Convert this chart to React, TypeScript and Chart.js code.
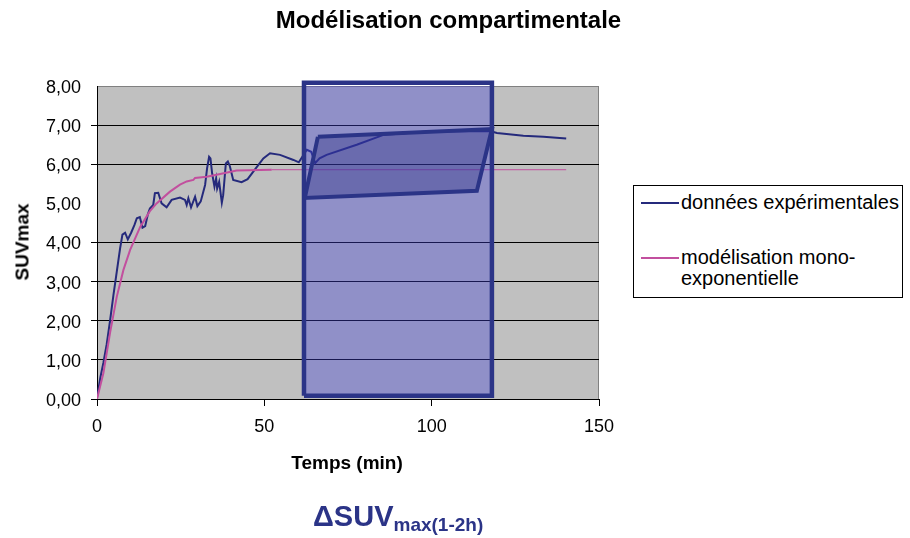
import React, { useEffect, useRef } from 'react';
import { Chart, registerables } from 'chart.js';

Chart.register(...registerables);

const FONT = "'Liberation Sans', Arial, Helvetica, sans-serif";

const titleText = 'Modélisation compartimentale';
const xAxisTitle = 'Temps (min)';
const yAxisTitle = 'SUVmax';
const bottomMain = 'ΔSUV';
const bottomSub = 'max(1-2h)';
const xTickLabels = ['0', '50', '100', '150'];
const yTickLabels = ['0,00', '1,00', '2,00', '3,00', '4,00', '5,00', '6,00', '7,00', '8,00'];
const seriesNames = ['données expérimentales', 'modélisation mono-exponentielle'];
const legendLines = [['données expérimentales'], ['modélisation mono-', 'exponentielle']];

const expTimes = [0, 1.0, 1.9, 2.9, 3.9, 4.9, 5.9, 6.9, 7.6, 8.4, 9.2, 10.2, 11.2, 11.9, 12.8, 13.6, 14.4, 15.2, 15.8, 16.8, 17.3, 18.3, 19.3, 20.8, 22.3, 24.8, 26.3, 26.8, 27.3, 28.1, 29.3, 30.0, 31.0, 32.3, 32.9, 33.5, 33.9, 34.4, 35.1, 35.6, 35.9, 36.5, 37.3, 37.7, 38.5, 39.1, 39.7, 40.7, 43.2, 45.0, 46.7, 49.7, 51.7, 54.7, 58.7, 60.3, 62.7, 64.0, 65.2, 66.5, 68.6, 77.6, 85.6, 97.5, 117.4, 119.5, 127.4, 133.4, 140.2];
const expValues = [0.03, 0.55, 0.92, 1.40, 2.00, 2.65, 3.25, 3.85, 4.20, 4.25, 4.08, 4.25, 4.45, 4.62, 4.65, 4.38, 4.42, 4.72, 4.87, 4.96, 5.26, 5.27, 5.00, 4.90, 5.09, 5.15, 5.09, 4.96, 5.13, 4.90, 5.17, 4.93, 5.05, 5.47, 5.90, 6.19, 6.15, 5.77, 5.43, 5.64, 5.38, 5.55, 5.02, 5.21, 6.02, 6.07, 5.95, 5.60, 5.54, 5.62, 5.81, 6.15, 6.28, 6.24, 6.11, 6.05, 6.37, 6.32, 6.03, 6.15, 6.24, 6.50, 6.75, 6.83, 6.85, 6.80, 6.73, 6.70, 6.66];

const modelTimes = [0, 1.9, 3.9, 5.9, 7.9, 9.9, 12.9, 15.8, 17.8, 21.8, 24.8, 26.8, 28.8, 29.3, 32.8, 36.8, 41.7, 52.2, 140.2];
const modelValues = [0, 0.66, 1.69, 2.61, 3.30, 3.81, 4.40, 4.80, 5.00, 5.30, 5.48, 5.56, 5.60, 5.65, 5.68, 5.75, 5.84, 5.86, 5.86];

// highlighted 1h-2h window (time bounds, SUV bounds)
const windowTimes = [61.85, 118.0];
const windowValues = [0.08, 8.08];
// ΔSUV parallelogram corners
const deltaTimes = [66.0, 118.0, 113.5, 62.1];
const deltaValues = [6.70, 6.90, 5.32, 5.14];

const EXP_COLOR = '#252a7c';
const MODEL_COLOR = '#c24f9e';
const BOX_BORDER = '#2b3487';

export default function App() {
  const ref = useRef<HTMLCanvasElement>(null);

  useEffect(() => {
    const canvas = ref.current;
    if (!canvas) return;

    const bgPlugin = {
      id: 'plotBg',
      beforeDraw(chart: any) {
        const { ctx, chartArea: a } = chart;
        ctx.save();
        ctx.fillStyle = '#ffffff';
        ctx.fillRect(0, 0, chart.width, chart.height);
        ctx.fillStyle = '#c0c0c0';
        ctx.fillRect(a.left, a.top, a.right - a.left, a.bottom - a.top);
        ctx.strokeStyle = '#808080';
        ctx.lineWidth = 1;
        ctx.beginPath();
        ctx.moveTo(a.right - 0.5, a.top);
        ctx.lineTo(a.right - 0.5, a.bottom);
        ctx.stroke();
        ctx.restore();
      },
    };

    const rect = [
      { x: windowTimes[0], y: windowValues[0] },
      { x: windowTimes[0], y: windowValues[1] },
      { x: windowTimes[1], y: windowValues[1] },
      { x: windowTimes[1], y: windowValues[0] },
      { x: windowTimes[0], y: windowValues[0] },
    ];
    const para = deltaTimes.map((t, i) => ({ x: t, y: deltaValues[i] }));
    para.push({ x: deltaTimes[0], y: deltaValues[0] });

    const chart = new Chart(canvas, {
      type: 'line',
      data: {
        datasets: [
          {
            label: seriesNames[0],
            data: expTimes.map((t, i) => ({ x: t, y: expValues[i] })),
            borderColor: EXP_COLOR,
            borderWidth: 2,
            pointRadius: 0,
            tension: 0,
            fill: false,
            order: 4,
          },
          {
            label: seriesNames[1],
            data: modelTimes.map((t, i) => ({ x: t, y: modelValues[i] })),
            borderColor: MODEL_COLOR,
            borderWidth: 2,
            pointRadius: 0,
            tension: 0,
            fill: false,
            order: 3,
            segment: {
              borderWidth: (c: any) => (c.p0.parsed.x >= 52 ? 1 : 2),
            },
          },
          {
            label: 'window',
            data: rect,
            borderColor: BOX_BORDER,
            borderWidth: 4.5,
            borderJoinStyle: 'miter',
            backgroundColor: 'rgba(64,64,213,0.375)',
            fill: 'shape',
            pointRadius: 0,
            tension: 0,
            clip: false,
            order: 2,
          },
          {
            label: 'delta',
            data: para,
            borderColor: BOX_BORDER,
            borderWidth: 4,
            borderJoinStyle: 'miter',
            backgroundColor: 'rgba(40,45,130,0.365)',
            fill: 'shape',
            pointRadius: 0,
            tension: 0,
            clip: false,
            order: 1,
          },
        ] as any,
      },
      options: {
        animation: false,
        responsive: false,
        events: [],
        layout: { padding: { top: 86, right: 311, bottom: 100, left: 0 } },
        plugins: {
          legend: { display: false },
          title: { display: false },
          tooltip: { enabled: false },
        },
        scales: {
          x: {
            type: 'linear',
            min: 0,
            max: 150,
            afterFit: (s: any) => {
              s.height = 39;
            },
            ticks: {
              stepSize: 50,
              color: '#000',
              font: { family: FONT, size: 18 },
              padding: 10,
              maxRotation: 0,
              callback: (_v: any, i: number) => xTickLabels[i],
            },
            grid: {
              drawOnChartArea: false,
              drawTicks: true,
              tickLength: 7,
              color: '#000',
              tickColor: '#000',
            },
            border: { color: '#000', width: 1 },
          },
          y: {
            type: 'linear',
            min: 0,
            max: 8,
            afterFit: (s: any) => {
              s.width = 97;
            },
            ticks: {
              stepSize: 1,
              color: '#000',
              font: { family: FONT, size: 18 },
              padding: 10,
              labelOffset: 2,
              callback: (_v: any, i: number) => yTickLabels[i],
            },
            grid: {
              color: (c: any) =>
                c.tick && c.tick.value === 5 ? 'rgba(0,0,0,0)' : c.tick && c.tick.value === 8 ? '#808080' : '#000',
              tickColor: (c: any) =>
                c.tick && (c.tick.value === 5 || c.tick.value === 8) ? 'rgba(0,0,0,0)' : '#000',
              tickLength: 6,
              lineWidth: 1,
            },
            border: { color: '#000', width: 1 },
          },
        },
      } as any,
      plugins: [bgPlugin],
    });

    return () => {
      chart.destroy();
    };
  }, []);

  const abs: React.CSSProperties = { position: 'absolute', whiteSpace: 'nowrap' };

  return (
    <div
      style={{
        position: 'absolute',
        left: 0,
        top: 0,
        width: 910,
        height: 538,
        background: '#fff',
        fontFamily: FONT,
        color: '#000',
        overflow: 'hidden',
      }}
    >
      <canvas ref={ref} width={910} height={538} style={{ position: 'absolute', left: 0, top: 0, width: 910, height: 538 }} />
      <div
        style={{
          ...abs,
          left: 448.5,
          top: 28 - 0.8465 * 24,
          fontSize: 24,
          lineHeight: '24px',
          fontWeight: 'bold',
          transform: 'translateX(-50%)',
        }}
      >
        {titleText}
      </div>
      <div
        style={{
          ...abs,
          left: 22,
          top: 241.5,
          fontSize: 19,
          lineHeight: '19px',
          fontWeight: 'bold',
          transform: 'translate(-50%, -50%) rotate(-90deg)',
        }}
      >
        {yAxisTitle}
      </div>
      <div
        style={{
          ...abs,
          left: 347,
          top: 469 - 0.8465 * 19,
          fontSize: 19,
          lineHeight: '19px',
          fontWeight: 'bold',
          transform: 'translateX(-50%)',
        }}
      >
        {xAxisTitle}
      </div>
      <div
        style={{
          ...abs,
          left: 313,
          top: 527 - 0.8465 * 29,
          fontSize: 29,
          lineHeight: '29px',
          fontWeight: 'bold',
          color: BOX_BORDER,
        }}
      >
        {bottomMain}
        <span style={{ fontSize: 19, lineHeight: 1, position: 'relative', top: 5 }}>{bottomSub}</span>
      </div>
      <div
        style={{
          position: 'absolute',
          left: 633,
          top: 185,
          width: 270,
          height: 113,
          boxSizing: 'border-box',
          border: '1px solid #000',
          background: '#fff',
        }}
      />
      <div style={{ position: 'absolute', left: 641, top: 202, width: 38, height: 2, background: EXP_COLOR }} />
      <div style={{ position: 'absolute', left: 641, top: 257, width: 38, height: 2, background: MODEL_COLOR }} />
      <div style={{ ...abs, left: 681, top: 209 - 17.43, fontSize: 20, lineHeight: '21px' }}>
        {legendLines[0].map((l, i) => (
          <div key={i}>{l}</div>
        ))}
      </div>
      <div style={{ ...abs, left: 681, top: 264 - 17.43, fontSize: 20, lineHeight: '21px' }}>
        {legendLines[1].map((l, i) => (
          <div key={i}>{l}</div>
        ))}
      </div>
    </div>
  );
}
